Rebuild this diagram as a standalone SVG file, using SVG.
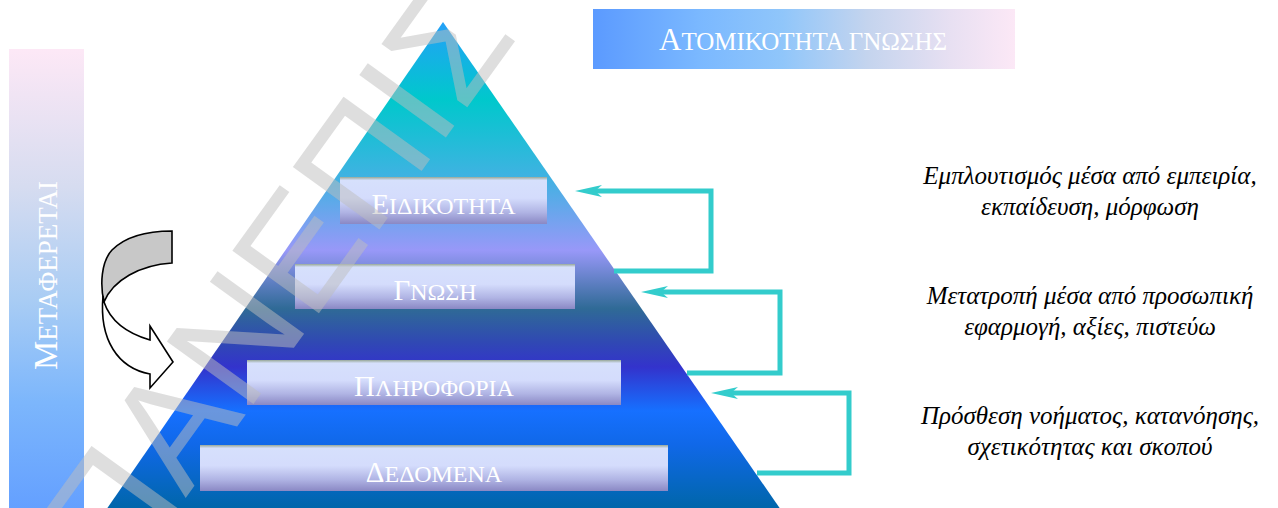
<svg xmlns="http://www.w3.org/2000/svg" width="1278" height="508" viewBox="0 0 1278 508">
  <defs>
    <linearGradient id="pyramidFill" gradientUnits="userSpaceOnUse" x1="0" y1="22" x2="0" y2="508">
      <stop offset="0" stop-color="#24a0f8"/>
      <stop offset="0.16" stop-color="#00c8cc"/>
      <stop offset="0.32" stop-color="#40b2e2"/>
      <stop offset="0.47" stop-color="#9898f8"/>
      <stop offset="0.59" stop-color="#2f6a96"/>
      <stop offset="0.66" stop-color="#3048b4"/>
      <stop offset="0.71" stop-color="#3333cc"/>
      <stop offset="0.80" stop-color="#1670ff"/>
      <stop offset="0.87" stop-color="#1068e8"/>
      <stop offset="1" stop-color="#0066aa"/>
    </linearGradient>
    <linearGradient id="barFill" x1="0" y1="0" x2="0" y2="1">
      <stop offset="0" stop-color="#98a898"/>
      <stop offset="0.07" stop-color="#d6e0fc"/>
      <stop offset="0.45" stop-color="#d4dcfc"/>
      <stop offset="0.75" stop-color="#b0b4e4"/>
      <stop offset="1" stop-color="#8a88c4"/>
    </linearGradient>
    <linearGradient id="titleFill" gradientUnits="userSpaceOnUse" x1="593" y1="0" x2="1015" y2="0">
      <stop offset="0" stop-color="#5b9aff"/>
      <stop offset="0.25" stop-color="#7ab8ff"/>
      <stop offset="0.45" stop-color="#90c6fa"/>
      <stop offset="0.65" stop-color="#c4d4ee"/>
      <stop offset="0.85" stop-color="#e8e0f2"/>
      <stop offset="1" stop-color="#fce8f6"/>
    </linearGradient>
    <linearGradient id="sideFill" gradientUnits="userSpaceOnUse" x1="0" y1="49" x2="0" y2="508">
      <stop offset="0" stop-color="#fde8f6"/>
      <stop offset="0.3" stop-color="#d6dcf0"/>
      <stop offset="0.55" stop-color="#a8ccf4"/>
      <stop offset="0.77" stop-color="#7cb6fc"/>
      <stop offset="1" stop-color="#64a0ff"/>
    </linearGradient>
    <marker id="head" markerUnits="userSpaceOnUse" viewBox="0 -8 30 16" markerWidth="30" markerHeight="16" refX="12" refY="0" orient="auto">
      <path d="M27,0 L0,-6 L7,0 L0,6 Z" fill="#33cccc"/>
    </marker>
    <style>
      .bar { fill: url(#barFill); }
      .barText { font-family: "Liberation Serif", "Times New Roman", serif; fill: #ffffff; text-anchor: middle; font-size: 24px; }
      .big { font-size: 29px; }
      .note { font-family: "Liberation Serif", "Times New Roman", serif; font-style: italic; font-size: 25px; fill: #000000; text-anchor: middle; }
      .link { fill: none; stroke: #33cccc; stroke-width: 5; stroke-linejoin: miter; marker-end: url(#head); }
      .mark { font-family: "Liberation Sans", Arial, sans-serif; font-size: 155px; fill: #bdbdbd; fill-opacity: 0.5; }
    </style>
  </defs>

  <!-- side banner -->
  <g id="side-banner">
    <rect x="9" y="49" width="75" height="460" fill="url(#sideFill)"/>
    <text transform="translate(57,370) rotate(-90)" font-family="Liberation Serif, Times New Roman, serif" font-size="27" fill="#ffffff"><tspan font-size="33">Μ</tspan>ΕΤΑΦΕΡΕΤΑΙ</text>
  </g>

  <!-- title banner -->
  <g id="title">
    <rect x="593" y="9" width="422" height="60" fill="url(#titleFill)"/>
    <text x="803" y="50" text-anchor="middle" font-family="Liberation Serif, Times New Roman, serif" font-size="25" fill="#ffffff"><tspan font-size="31">Α</tspan>ΤΟΜΙΚΟΤΗΤΑ ΓΝΩΣΗΣ</text>
  </g>

  <!-- pyramid body -->
  <g id="pyramid">
    <polygon points="443,22 106,510 781,510" fill="url(#pyramidFill)"/>
  </g>

  <!-- pyramid levels -->
  <g id="level-expertise">
    <rect class="bar" x="340" y="177" width="207" height="47"/>
    <text class="barText" x="443.5" y="214"><tspan class="big">Ε</tspan>ΙΔΙΚΟΤΗΤΑ</text>
  </g>
  <g id="level-knowledge">
    <rect class="bar" x="295" y="264" width="280" height="45"/>
    <text class="barText" x="435" y="300"><tspan class="big">Γ</tspan>ΝΩΣΗ</text>
  </g>
  <g id="level-information">
    <rect class="bar" x="247" y="360" width="374" height="45"/>
    <text class="barText" x="434" y="396"><tspan class="big">Π</tspan>ΛΗΡΟΦΟΡΙΑ</text>
  </g>
  <g id="level-data">
    <rect class="bar" x="200" y="445" width="468" height="46"/>
    <text class="barText" x="434" y="482"><tspan class="big">Δ</tspan>ΕΔΟΜΕΝΑ</text>
  </g>

  <!-- feedback loops -->
  <g id="connectors">
    <path class="link" d="M614,271 H711 V191 H590"/>
    <path class="link" d="M687,373 H780 V292 H656"/>
    <path class="link" d="M757,473 H849 V393 H726"/>
  </g>

  <!-- side notes -->
  <g id="note-expertise">
    <text class="note" x="1090" y="184">Εμπλουτισμός μέσα από εμπειρία,</text>
    <text class="note" x="1090" y="215">εκπαίδευση, μόρφωση</text>
  </g>
  <g id="note-knowledge">
    <text class="note" x="1090" y="304">Μετατροπή μέσα από προσωπική</text>
    <text class="note" x="1090" y="335">εφαρμογή, αξίες, πιστεύω</text>
  </g>
  <g id="note-information">
    <text class="note" x="1090" y="424">Πρόσθεση νοήματος, κατανόησης,</text>
    <text class="note" x="1090" y="455">σχετικότητας και σκοπού</text>
  </g>

  <!-- curved transfer arrow -->
  <g id="transfer-arrow" stroke="#000000" stroke-width="1.6" stroke-linejoin="miter">
    <path d="M172,231 L172,263 C140,265 113,280 104,302 C100,285 101,262 112,250 C126,236 148,231 172,231 Z" fill="#c8c8c8"/>
    <path d="M103,296 C99,340 118,368 150,374 L150,388 L173,362 L150,326 L150,340 C126,333 110,320 104,302 Z" fill="#ffffff"/>
  </g>

  <!-- watermark -->
  <text class="mark" transform="translate(120,589) rotate(-54.2)">ΠΑΝΕΠΙΣ</text>
</svg>
